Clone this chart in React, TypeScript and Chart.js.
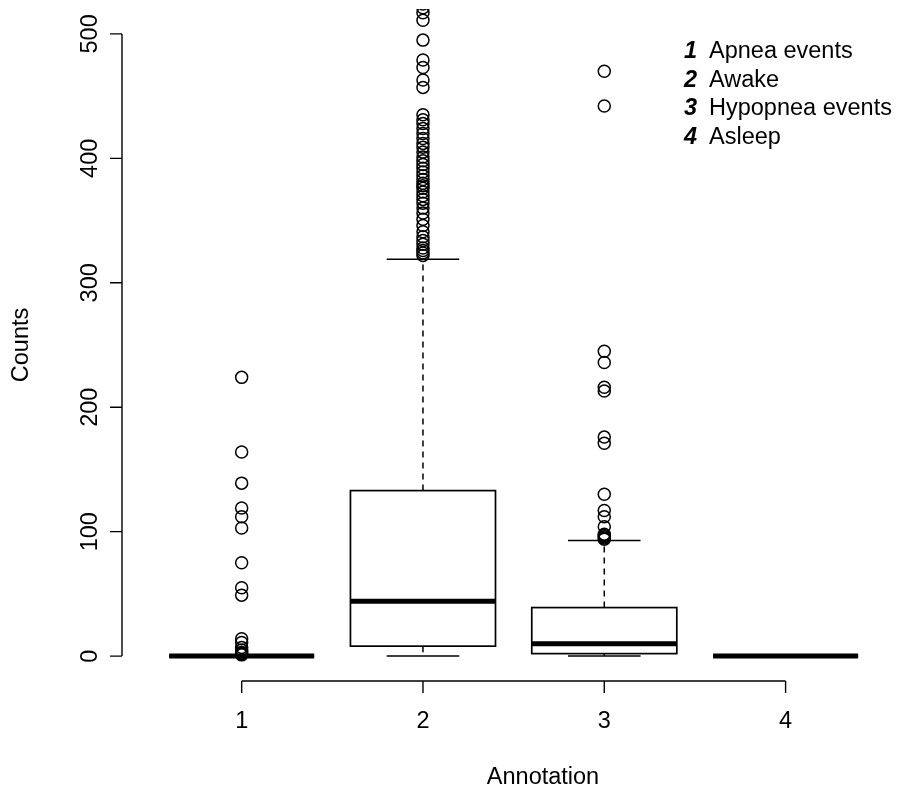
import React, { useEffect, useRef } from 'react';
import { Chart, registerables } from 'chart.js';

Chart.register(...registerables);

const categories = ['1', '2', '3', '4'];
const legendLabels = ['Apnea events', 'Awake', 'Hypopnea events', 'Asleep'];
const yTicks = [0, 100, 200, 300, 400, 500];
const yTickLabels = ['0', '100', '200', '300', '400', '500'];
const xTitle = 'Annotation';
const yTitle = 'Counts';

const lowerWhisker = [0, 0, 0, 0];
const lowerQuartile = [0, 8, 2, 0];
const medians = [0, 44, 10, 0];
const upperQuartile = [0, 133, 39, 0];
const upperWhisker = [0, 319, 93, 0];

const outliers1 = [224, 164, 139, 119, 112, 103, 75, 55, 49, 14, 11, 7, 5, 3, 2, 1];
const outliers2 = [
  540, 533, 528, 524, 521, 517, 511, 495, 479, 473, 463, 457, 435, 431, 428, 424, 420, 416, 412,
  409, 405, 401, 398, 395, 392, 389, 386, 383, 380, 378, 376, 373, 370, 367, 364, 360, 356, 351,
  346, 341, 337, 334, 331, 328, 326, 324, 322,
];
const outliers3 = [470, 442, 245, 236, 216, 213, 176, 171, 130, 117, 112, 104, 98, 97, 96, 95, 94];
const outlierGroups = [outliers1, outliers2, outliers3, []];

const FONT = '"Liberation Sans", Arial, Helvetica, sans-serif';
const FS = 23.5;

const boxPlugin = {
  id: 'rBoxplot',
  beforeDatasetsDraw(chart: any) {
    const ctx = chart.ctx;
    const xs = chart.scales.x;
    const ys = chart.scales.y;
    const half = xs.getPixelForValue(1.4) - xs.getPixelForValue(1);
    const capHalf = half / 2;
    ctx.save();
    ctx.strokeStyle = '#000';
    categories.forEach((_, i) => {
      const cx = xs.getPixelForValue(i + 1);
      const yq1 = ys.getPixelForValue(lowerQuartile[i]);
      const yq3 = ys.getPixelForValue(upperQuartile[i]);
      const ymed = ys.getPixelForValue(medians[i]);
      const ylw = ys.getPixelForValue(lowerWhisker[i]);
      const yuw = ys.getPixelForValue(upperWhisker[i]);
      ctx.lineWidth = 1.5;
      ctx.setLineDash([6, 5]);
      ctx.beginPath();
      ctx.moveTo(cx, yq3);
      ctx.lineTo(cx, yuw);
      ctx.moveTo(cx, yq1);
      ctx.lineTo(cx, ylw);
      ctx.stroke();
      ctx.setLineDash([]);
      ctx.beginPath();
      ctx.moveTo(cx - capHalf, yuw);
      ctx.lineTo(cx + capHalf, yuw);
      ctx.moveTo(cx - capHalf, ylw);
      ctx.lineTo(cx + capHalf, ylw);
      ctx.stroke();
      ctx.fillStyle = '#fff';
      ctx.fillRect(cx - half, yq3, 2 * half, yq1 - yq3);
      ctx.lineWidth = 1.7;
      ctx.strokeRect(cx - half, yq3, 2 * half, yq1 - yq3);
      ctx.lineWidth = 5;
      ctx.lineCap = 'butt';
      ctx.beginPath();
      ctx.moveTo(cx - half, ymed);
      ctx.lineTo(cx + half, ymed);
      ctx.stroke();
    });
    ctx.restore();
  },
  afterDraw(chart: any) {
    const ctx = chart.ctx;
    const xs = chart.scales.x;
    const ys = chart.scales.y;
    const area = chart.chartArea;
    ctx.save();
    ctx.strokeStyle = '#000';
    ctx.fillStyle = '#000';
    ctx.lineWidth = 1.4;
    const axX = area.left;
    ctx.beginPath();
    ctx.moveTo(axX, ys.getPixelForValue(yTicks[0]));
    ctx.lineTo(axX, ys.getPixelForValue(yTicks[yTicks.length - 1]));
    yTicks.forEach((t) => {
      const y = ys.getPixelForValue(t);
      ctx.moveTo(axX, y);
      ctx.lineTo(axX - 12, y);
    });
    ctx.stroke();
    ctx.font = `${FS}px ${FONT}`;
    ctx.textAlign = 'center';
    ctx.textBaseline = 'middle';
    yTicks.forEach((t, i) => {
      const y = ys.getPixelForValue(t);
      ctx.save();
      ctx.translate(axX - 31, y);
      ctx.rotate(-Math.PI / 2);
      ctx.fillText(yTickLabels[i], 0, 0);
      ctx.restore();
    });
    const axY = area.bottom;
    ctx.beginPath();
    ctx.moveTo(xs.getPixelForValue(1), axY);
    ctx.lineTo(xs.getPixelForValue(categories.length), axY);
    categories.forEach((_, i) => {
      const x = xs.getPixelForValue(i + 1);
      ctx.moveTo(x, axY);
      ctx.lineTo(x, axY + 12);
    });
    ctx.stroke();
    categories.forEach((c, i) => {
      ctx.fillText(c, xs.getPixelForValue(i + 1), axY + 41);
    });
    ctx.fillText(xTitle, (area.left + area.right) / 2 + 33, axY + 97);
    ctx.save();
    ctx.translate(22, ys.getPixelForValue(250));
    ctx.rotate(-Math.PI / 2);
    ctx.fillText(yTitle, 0, 0);
    ctx.restore();
    ctx.textAlign = 'left';
    legendLabels.forEach((lab, i) => {
      const y = 52 + i * 28.5;
      ctx.font = `italic bold ${FS}px ${FONT}`;
      ctx.fillText(categories[i], 684, y);
      ctx.font = `${FS}px ${FONT}`;
      ctx.fillText(lab, 709, y);
    });
    ctx.restore();
  },
};

export default function App() {
  const ref = useRef<HTMLCanvasElement | null>(null);
  useEffect(() => {
    if (!ref.current) return;
    const datasets = outlierGroups.map((g, i) => ({
      label: categories[i],
      data: g.map((v) => ({ x: i + 1, y: v })),
      pointRadius: 6,
      pointBorderWidth: 1.5,
      pointBorderColor: '#000',
      pointBackgroundColor: 'rgba(0,0,0,0)',
      showLine: false,
      clip: 0,
    }));
    const chart = new Chart(ref.current, {
      type: 'scatter',
      data: { datasets },
      options: {
        responsive: false,
        animation: false,
        events: [],
        layout: { autoPadding: false, padding: { left: 122, right: 0, top: 9, bottom: 113 } },
        plugins: { legend: { display: false }, tooltip: { enabled: false } },
        scales: {
          x: { type: 'linear', min: 0.34, max: 4.62, display: false },
          y: { type: 'linear', min: -20, max: 520, display: false },
        },
      },
      plugins: [boxPlugin],
    } as any);
    return () => chart.destroy();
  }, []);
  return (
    <div style={{ position: 'absolute', left: 0, top: 0, width: 898, height: 794, background: '#fff' }}>
      <canvas ref={ref} width={898} height={794} style={{ width: 898, height: 794 }} />
    </div>
  );
}
